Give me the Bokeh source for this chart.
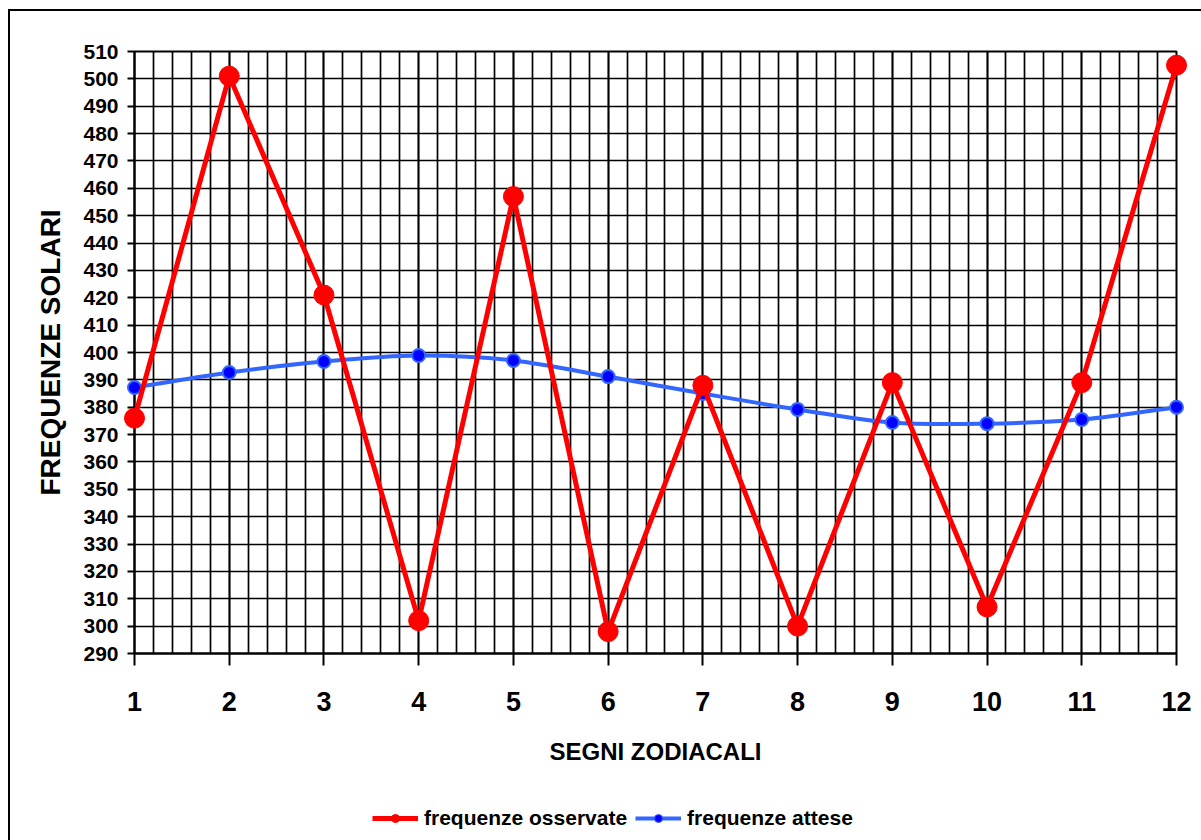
from bokeh.plotting import figure
from bokeh.layouts import column
from bokeh.models import Range1d, SingleIntervalTicker, Legend, LegendItem
from bokeh.embed import file_html
from bokeh.resources import INLINE

segni = [1, 2, 3, 4, 5, 6, 7, 8, 9, 10, 11, 12]
osservate = [376, 501, 421, 302, 457, 298, 388, 300, 389, 307, 389, 505]
attese = [387.2, 392.7, 396.7, 398.9, 397.1, 391.2, 385.0, 379.2, 374.4, 374.0, 375.5, 380.0]
etichette = ["frequenze osservate", "frequenze attese"]

FONT = "Liberation Sans"
RED = "#FF0000"
BLUE_LINE = "#3366FF"
BLUE_FILL = "#0000FF"

p = figure(width=1191, height=785, output_backend="svg", toolbar_location=None,
           x_range=Range1d(1, 12), y_range=Range1d(290, 510),
           frame_width=1042, frame_height=602,
           min_border_left=124, min_border_right=25, min_border_top=40, min_border_bottom=143,
           background_fill_color="white", border_fill_color="white")
p.outline_line_color = "black"
p.outline_line_width = 2

# axes
p.xaxis.ticker = SingleIntervalTicker(interval=1, num_minor_ticks=5)
p.yaxis.ticker = SingleIntervalTicker(interval=10, num_minor_ticks=0)
for ax in (p.xaxis[0], p.yaxis[0]):
    ax.axis_line_color = "black"
    ax.axis_line_width = 2
    ax.major_tick_line_color = "black"
    ax.major_tick_line_width = 2
    ax.major_tick_in = 0
    ax.minor_tick_line_color = None
    ax.major_label_text_font = FONT
    ax.major_label_text_font_style = "bold"
    ax.major_label_text_color = "black"
    ax.axis_label_text_font = FONT
    ax.axis_label_text_font_style = "bold"
    ax.axis_label_text_color = "black"

p.xaxis.major_tick_out = 12
p.xaxis.major_label_standoff = 26
p.xaxis.major_label_text_font_size = "27px"
p.xaxis.axis_label = "SEGNI ZODIACALI"
p.xaxis.axis_label_text_font_size = "24px"
p.xaxis.axis_label_standoff = 24

p.yaxis.major_tick_out = 7
p.yaxis.major_label_standoff = 9
p.yaxis.major_label_text_font_size = "21px"
p.yaxis.axis_label = "FREQUENZE SOLARI"
p.yaxis.axis_label_text_font_size = "28px"
p.yaxis.axis_label_standoff = 14

# grid
p.xgrid.grid_line_color = "black"
p.xgrid.grid_line_width = 1.7
p.xgrid.grid_line_alpha = 1
p.xgrid.minor_grid_line_color = "black"
p.xgrid.minor_grid_line_width = 1.7
p.ygrid.grid_line_color = "black"
p.ygrid.grid_line_width = 1.7

# expected: smooth curve (Bezier segments through the data points)
n = len(segni)
x0, y0, x1, y1, cx0, cy0, cx1, cy1 = [], [], [], [], [], [], [], []
for i in range(n - 1):
    xm = segni[i - 1] if i > 0 else segni[i]
    ym = attese[i - 1] if i > 0 else attese[i]
    xp = segni[i + 2] if i + 2 < n else segni[i + 1]
    yp = attese[i + 2] if i + 2 < n else attese[i + 1]
    x0.append(segni[i]); y0.append(attese[i])
    x1.append(segni[i + 1]); y1.append(attese[i + 1])
    cx0.append(segni[i] + (segni[i + 1] - xm) / 6)
    cy0.append(attese[i] + (attese[i + 1] - ym) / 6)
    cx1.append(segni[i + 1] - (xp - segni[i]) / 6)
    cy1.append(attese[i + 1] - (yp - attese[i]) / 6)

blue_curve = p.bezier(x0=x0, y0=y0, x1=x1, y1=y1, cx0=cx0, cy0=cy0, cx1=cx1, cy1=cy1,
                      line_color=BLUE_LINE, line_width=4)
blue_pts = p.scatter(segni, attese, size=13, fill_color=BLUE_FILL, line_color=BLUE_LINE,
                     line_width=2)

red_line = p.line(segni, osservate, line_color=RED, line_width=5)
red_pts = p.scatter(segni, osservate, size=20, fill_color=RED, line_color=RED)

for r in (blue_curve, blue_pts, red_line, red_pts):
    r.level = "overlay"

# legend strip below the chart (its frame is aligned with the chart frame)
lg = figure(width=1191, height=55, output_backend="svg", toolbar_location=None,
            x_range=Range1d(0, 1), y_range=Range1d(0, 1),
            x_axis_location=None, y_axis_location=None,
            min_border=0, outline_line_color=None,
            background_fill_color="white", border_fill_color="white")
lg.xgrid.visible = False
lg.ygrid.visible = False
e_red_line = lg.line(x=[0, 1], y=[0, 0], line_color=RED, line_width=5, visible=False)
e_red_pt = lg.scatter(x=[0], y=[0], size=13, fill_color=RED, line_color=RED, visible=False)
e_blue_line = lg.line(x=[0, 1], y=[0, 0], line_color=BLUE_LINE, line_width=4, visible=False)
e_blue_pt = lg.scatter(x=[0], y=[0], size=9, fill_color=BLUE_FILL, line_color=BLUE_LINE,
                       visible=False)

legend = Legend(items=[
    LegendItem(label=etichette[0], renderers=[e_red_line, e_red_pt]),
    LegendItem(label=etichette[1], renderers=[e_blue_line, e_blue_pt]),
], orientation="horizontal", location=(238, 21),
    label_text_font=FONT, label_text_font_style="bold", label_text_font_size="21px",
    label_text_color="black", glyph_width=46, glyph_height=20, label_height=20,
    spacing=8, label_standoff=6, padding=0, margin=0, border_line_color=None,
    background_fill_alpha=0, inactive_fill_alpha=0)
lg.add_layout(legend)

layout = column(p, lg, spacing=0)
layout.styles = {"margin-left": "8px", "margin-top": "9px",
                 "border-left": "2px solid black", "border-top": "2px solid black"}

open("out.html", "w").write(file_html(layout, INLINE))
